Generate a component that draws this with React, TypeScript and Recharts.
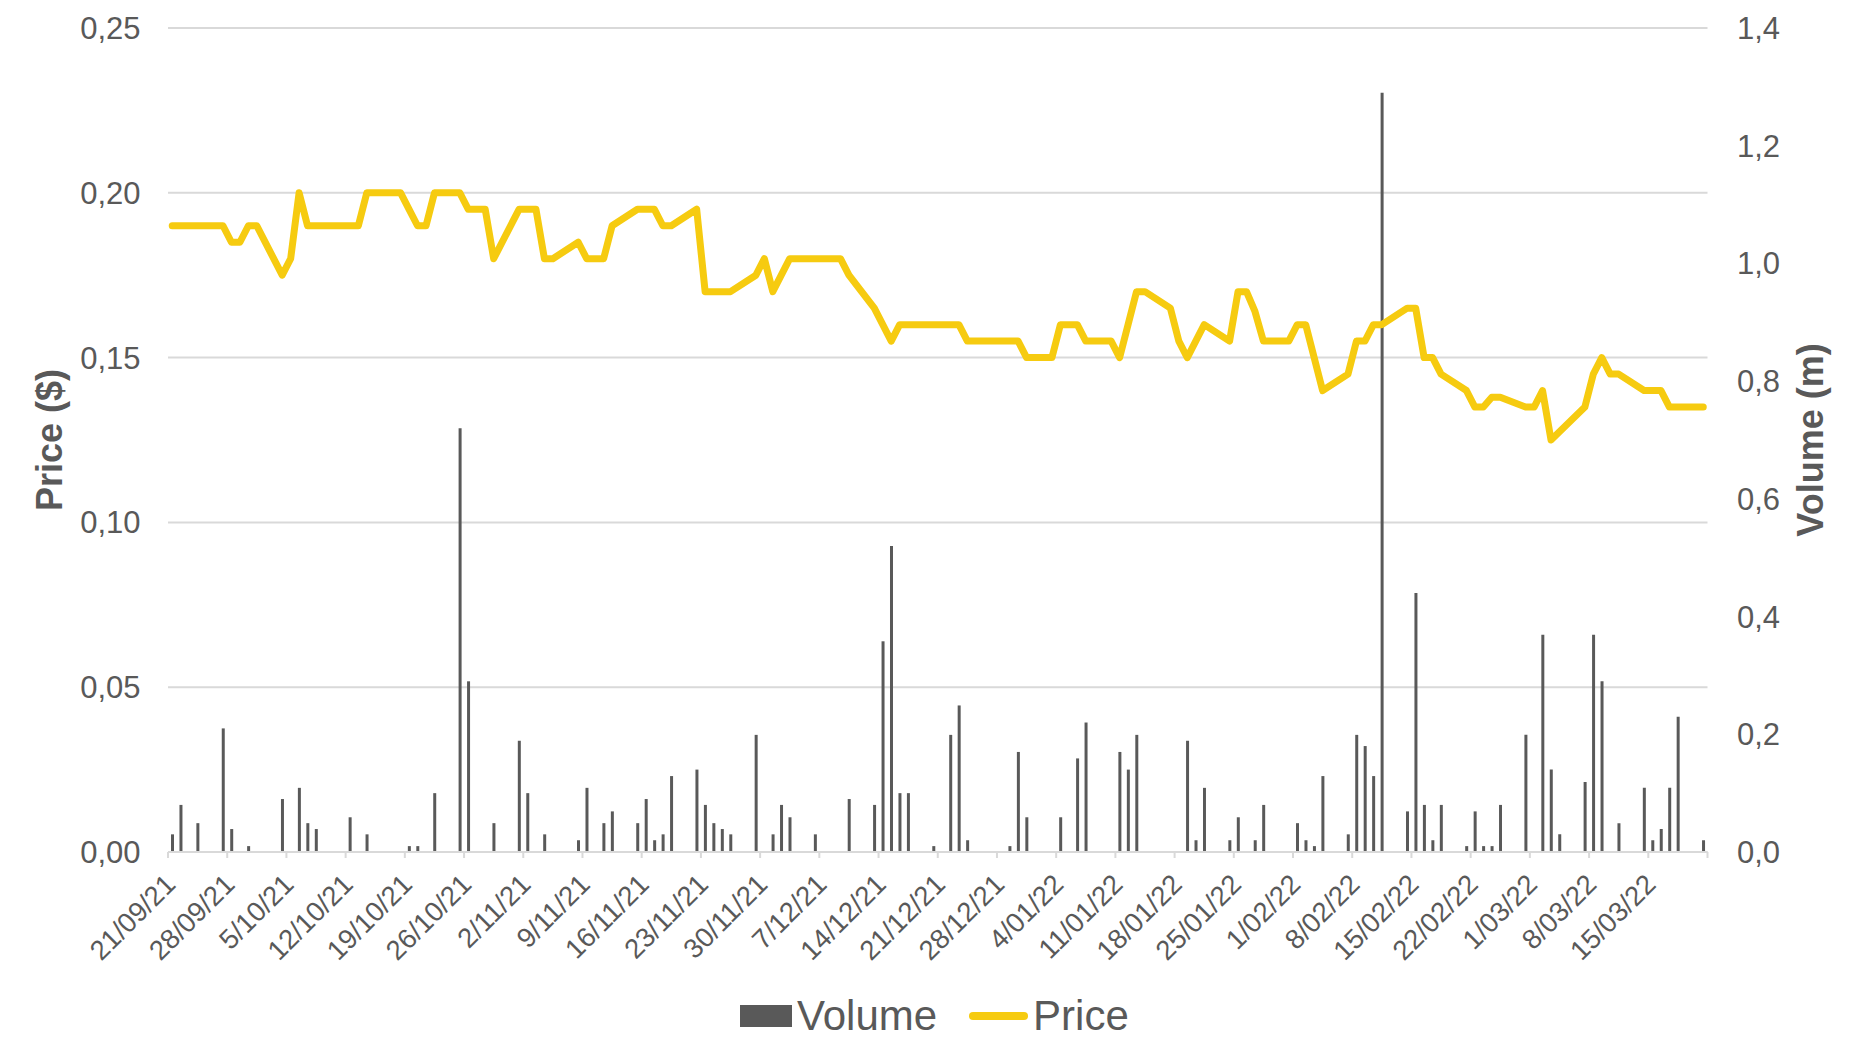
import React from 'react';
import { ComposedChart, Bar, Line, XAxis, YAxis, CartesianGrid } from 'recharts';

const FONT = "'Liberation Sans', Arial, sans-serif";
const TEXT = '#595959';
const GRID = '#d9d9d9';
const YELLOW = '#F6CB10';
const BAR = '#595959';

// calendar days shown on the axis: 21/09/21 (day 0) .. 21/03/22 (day 181)
const DAY_COUNT = 182;

// trading days, as day offsets from 21/09/21
const tradeDays = [
  0, 1, 2, 3, 6,
  7, 8, 9, 10, 13,
  14, 15, 16, 17, 20,
  21, 22, 23, 24, 27,
  28, 29, 30, 31, 34,
  35, 36, 37, 38, 41,
  42, 43, 44, 45, 48,
  49, 50, 51, 52, 55,
  56, 57, 58, 59, 62,
  63, 64, 65, 66, 69,
  70, 71, 72, 73, 76,
  77, 78, 79, 80, 83,
  84, 85, 86, 87, 90,
  91, 92, 93, 94,
  99, 100, 101, 104,
  105, 106, 107, 108, 111,
  112, 113, 114, 115, 118,
  119, 120, 121, 122, 125,
  126, 127, 128, 129, 132,
  133, 134, 135, 136, 139,
  140, 141, 142, 143, 146,
  147, 148, 149, 150, 153,
  154, 155, 156, 157, 160,
  161, 162, 163, 164, 167,
  168, 169, 170, 171, 174,
  175, 176, 177, 178, 181,
];

// closing price ($)
const prices = [
  0.19, 0.19, 0.19, 0.19, 0.19,
  0.185, 0.185, 0.19, 0.19, 0.175,
  0.18, 0.2, 0.19, 0.19, 0.19,
  0.19, 0.19, 0.2, 0.2, 0.2,
  0.195, 0.19, 0.19, 0.2, 0.2,
  0.195, 0.195, 0.195, 0.18, 0.195,
  0.195, 0.195, 0.18, 0.18, 0.185,
  0.18, 0.18, 0.18, 0.19, 0.195,
  0.195, 0.195, 0.19, 0.19, 0.195,
  0.17, 0.17, 0.17, 0.17, 0.175,
  0.18, 0.17, 0.175, 0.18, 0.18,
  0.18, 0.18, 0.18, 0.175, 0.165,
  0.16, 0.155, 0.16, 0.16, 0.16,
  0.16, 0.16, 0.16, 0.155,
  0.155, 0.155, 0.15, 0.15,
  0.16, 0.16, 0.16, 0.155, 0.155,
  0.15, 0.16, 0.17, 0.17, 0.165,
  0.155, 0.15, 0.155, 0.16, 0.155,
  0.17, 0.17, 0.164, 0.155, 0.155,
  0.16, 0.16, 0.15, 0.14, 0.145,
  0.155, 0.155, 0.16, 0.16, 0.165,
  0.165, 0.15, 0.15, 0.145, 0.14,
  0.135, 0.135, 0.138, 0.138, 0.135,
  0.135, 0.14, 0.125, 0.1275, 0.135,
  0.145, 0.15, 0.145, 0.145, 0.14,
  0.14, 0.14, 0.135, 0.135, 0.135,
];

// volume (millions of shares)
const volumes = [
  0.03, 0.08, 0, 0.049, 0.21,
  0.039, 0, 0.01, 0, 0.09,
  0, 0.109, 0.049, 0.039, 0,
  0.059, 0, 0.03, 0, 0,
  0.01, 0.01, 0, 0.1, 0.72,
  0.29, 0, 0, 0.049, 0.189,
  0.1, 0, 0.03, 0, 0.02,
  0.109, 0, 0.049, 0.069, 0.049,
  0.09, 0.02, 0.03, 0.129, 0.14,
  0.08, 0.049, 0.039, 0.03, 0.199,
  0, 0.03, 0.08, 0.059, 0.03,
  0, 0, 0, 0.09, 0.08,
  0.358, 0.52, 0.1, 0.1, 0.01,
  0, 0.199, 0.249, 0.02,
  0.01, 0.17, 0.059, 0,
  0.059, 0, 0.159, 0.22, 0,
  0.17, 0.14, 0.199, 0, 0,
  0, 0.189, 0.02, 0.109, 0.02,
  0.059, 0, 0.02, 0.08, 0,
  0.049, 0.02, 0.01, 0.129, 0.03,
  0.199, 0.18, 0.129, 1.29, 0.069,
  0.44, 0.08, 0.02, 0.08, 0.01,
  0.069, 0.01, 0.01, 0.08, 0.199,
  0, 0.369, 0.14, 0.03, 0.119,
  0.369, 0.29, 0, 0.049, 0.109,
  0.02, 0.039, 0.109, 0.23, 0.02,
];

// weekly axis labels, one every 7 days from day 0
const weekLabels = [
  '21/09/21', '28/09/21', '5/10/21', '12/10/21', '19/10/21', '26/10/21',
  '2/11/21', '9/11/21', '16/11/21', '23/11/21', '30/11/21', '7/12/21',
  '14/12/21', '21/12/21', '28/12/21', '4/01/22', '11/01/22', '18/01/22',
  '25/01/22', '1/02/22', '8/02/22', '15/02/22', '22/02/22', '1/03/22',
  '8/03/22', '15/03/22',
];

const priceTicks = [0, 0.05, 0.1, 0.15, 0.2, 0.25];
const volumeTicks = [0, 0.2, 0.4, 0.6, 0.8, 1.0, 1.2, 1.4];

type Row = { day: number; price: number | null; volume: number | null };

const rows: Row[] = Array.from({ length: DAY_COUNT }, (_, d) => ({ day: d, price: null, volume: null }));
tradeDays.forEach((d, i) => {
  rows[d].price = prices[i];
  rows[d].volume = volumes[i] > 0 ? volumes[i] : null;
});

// tick marks sit on the day boundaries, like a date axis
const weekTicks = [...weekLabels.map((_, i) => i * 7 - 0.5), DAY_COUNT - 0.5];

const DateTick = (props: any) => {
  const { x, y, payload } = props;
  const idx = Math.round((payload.value + 0.5) / 7);
  const label = weekLabels[idx];
  if (!label) return null;
  const ax = x + 9;
  const ay = y + 28;
  return (
    <text
      x={ax}
      y={ay}
      textAnchor="end"
      transform={`rotate(-45 ${ax} ${ay})`}
      fontSize={27.5}
      fontFamily={FONT}
      fill={TEXT}
    >
      {label}
    </text>
  );
};

const AxisTitle = (props: any) => {
  const { viewBox, value, bx } = props;
  const cy = viewBox.y + viewBox.height / 2;
  return (
    <text
      x={bx}
      y={cy}
      textAnchor="middle"
      transform={`rotate(-90 ${bx} ${cy})`}
      fontSize={36}
      fontWeight="bold"
      fontFamily={FONT}
      fill={TEXT}
    >
      {value}
    </text>
  );
};

const ChartLegend = () => (
  <div
    style={{
      position: 'absolute',
      top: 991,
      left: 740,
      display: 'flex',
      alignItems: 'center',
      fontFamily: FONT,
      fontSize: 42,
      color: TEXT,
      lineHeight: '50px',
    }}
  >
    <div style={{ width: 52, height: 22, background: BAR, marginRight: 5 }} />
    <span>Volume</span>
    <div style={{ width: 59, height: 8, borderRadius: 4, background: YELLOW, marginLeft: 32, marginRight: 5 }} />
    <span>Price</span>
  </div>
);

export default function App() {
  return (
    <div style={{ position: 'absolute', left: 0, top: 0, width: 1876, height: 1040, background: '#fff' }}>
      <ComposedChart
        width={1876}
        height={1040}
        data={rows}
        margin={{ top: 28, right: 0, bottom: 38, left: 0 }}
      >
        <CartesianGrid yAxisId="price" vertical={false} stroke={GRID} strokeWidth={2} />
        <XAxis
          dataKey="day"
          type="number"
          domain={[-0.5, DAY_COUNT - 0.5]}
          allowDataOverflow
          ticks={weekTicks}
          interval={0}
          height={150}
          tick={<DateTick />}
          tickSize={6}
          tickMargin={0}
          axisLine={{ stroke: GRID, strokeWidth: 2 }}
          tickLine={{ stroke: GRID, strokeWidth: 2 }}
        />
        <YAxis
          yAxisId="price"
          orientation="left"
          domain={[0, 0.25]}
          ticks={priceTicks}
          interval={0}
          width={168}
          axisLine={false}
          tickLine={false}
          tickSize={0}
          tickMargin={27.5}
          tickFormatter={(v: number) => v.toFixed(2).replace('.', ',')}
          tick={{ fill: TEXT, fontSize: 31, fontFamily: FONT }}
          label={<AxisTitle value="Price ($)" bx={62} />}
        />
        <YAxis
          yAxisId="vol"
          orientation="right"
          domain={[0, 1.4]}
          ticks={volumeTicks}
          interval={0}
          width={168.5}
          axisLine={false}
          tickLine={false}
          tickSize={0}
          tickMargin={29.5}
          tickFormatter={(v: number) => v.toFixed(1).replace('.', ',')}
          tick={{ fill: TEXT, fontSize: 31, fontFamily: FONT }}
          label={<AxisTitle value="Volume (m)" bx={1823} />}
        />
        <Line
          yAxisId="price"
          dataKey="price"
          type="linear"
          stroke={YELLOW}
          strokeWidth={7}
          strokeLinejoin="round"
          strokeLinecap="round"
          dot={false}
          activeDot={false}
          connectNulls
          isAnimationActive={false}
        />
        <Bar yAxisId="vol" dataKey="volume" fill={BAR} barSize={3} isAnimationActive={false} />
      </ComposedChart>
      <ChartLegend />
    </div>
  );
}
